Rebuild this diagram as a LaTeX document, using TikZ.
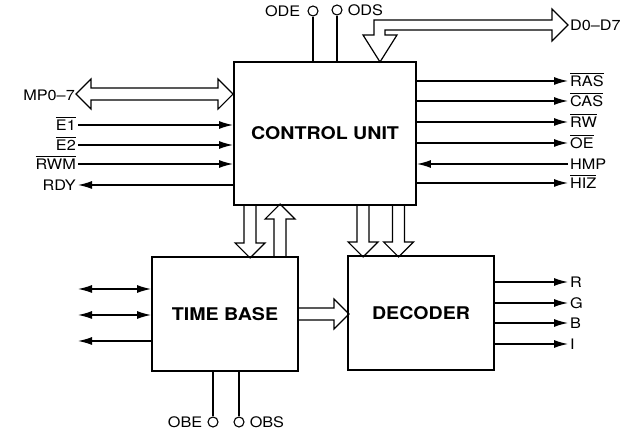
\documentclass[tikz,border=0pt]{standalone}
\usepackage{fontspec}
\setmainfont{TeX Gyre Heros}[FakeStretch=1.12]
\usetikzlibrary{arrows.meta,positioning,calc}
\newcommand{\ovl}[1]{\leavevmode\vbox{\hrule height 0.9pt\kern1.7pt\hbox{#1}}}
\tikzset{
    blk box/.style={
        draw=black,
        line width=1.9pt,
        minimum width=146pt,
        minimum height=114pt,
        inner sep=0pt,
        font=\fontsize{17.5}{20}\selectfont\bfseries
    },
    blk label/.style={font=\fontsize{14.5}{16}\selectfont, inner sep=2pt, text height=10.4pt, text depth=0pt},
    blk sig/.style={-{Latex[length=14pt,width=8pt]}, line width=1.3pt},
    blk both/.style={{Latex[length=14pt,width=8pt]}-{Latex[length=14pt,width=8pt]}, line width=1.3pt},
    blk wire/.style={line width=1.3pt},
    blk pin/.style={circle, draw, line width=1.1pt, fill=white, minimum size=10pt, inner sep=0pt},
    blk bus/.style={line width=1.2pt, line join=miter},
    pics/bus/.style={code={
        \draw[blk bus] (0,-6) -- (#1-15,-6) -- (#1-15,-15) -- (#1,0) -- (#1-15,15) -- (#1-15,6) -- (0,6);
    }},
    pics/bus both/.style={code={
        \draw[blk bus] (0,0) -- (15,-15) -- (15,-6) -- (#1-15,-6) -- (#1-15,-15) -- (#1,0)
            -- (#1-15,15) -- (#1-15,6) -- (15,6) -- (15,15) -- cycle;
    }}
}
\begin{document}
\begin{tikzpicture}[x=1pt, y=-1pt]
\useasboundingbox (0,0) rectangle (640,435);
% blocks
\node[blk box, minimum width=182pt, minimum height=143pt] (cu) at (325,133.5) {CONTROL UNIT};
\node[blk box] (tb) at (225,314) {TIME BASE};
\node[blk box] (dec) at (421,313) {DECODER};

% control unit, left side
\pic[rotate=180] at ($(cu.north west)+(0,33)$) {bus both=157};
\node[blk label, anchor=east] (mp) at (77,95) {MP0--7};
\node[blk label, anchor=east] (e1) at (78,125) {\ovl{E1}};
\node[blk label, anchor=east] (e2) at (78,145) {\ovl{E2}};
\node[blk label, anchor=east] (rwm) at (78,164) {\ovl{RWM}};
\node[blk label, anchor=east] (rdy) at (78,185) {RDY};
\draw[blk sig] (e1.east) -- (e1.east -| cu.west);
\draw[blk sig] (e2.east) -- (e2.east -| cu.west);
\draw[blk sig] (rwm.east) -- (rwm.east -| cu.west);
\draw[blk sig] (rdy.east -| cu.west) -- (rdy.east);

% control unit, right side
\node[blk label, anchor=west] (ras) at (568,81) {\ovl{RAS}};
\node[blk label, anchor=west] (cas) at (568,101) {\ovl{CAS}};
\node[blk label, anchor=west] (rw) at (568,122) {\ovl{RW}};
\node[blk label, anchor=west] (oe) at (568,143) {\ovl{OE}};
\node[blk label, anchor=west] (hmp) at (568,164) {HMP};
\node[blk label, anchor=west] (hiz) at (568,183) {\ovl{HIZ}};
\foreach \s in {ras,cas,rw,oe,hiz}
    \draw[blk sig] (\s.west -| cu.east) -- (\s.west);
\draw[blk sig] (hmp.west) -- (hmp.west -| cu.east);

% control unit, top
\node[blk pin] (ode) at (313,11) {};
\node[blk pin] (ods) at (337,10) {};
\node[blk label, left=5pt of ode] {ODE};
\node[blk label, right=3pt of ods] {ODS};
\draw[blk wire] (ode) -- (ode |- cu.north);
\draw[blk wire] (ods) -- (ods |- cu.north);
\draw[blk bus] (374,35) -- (374,20) -- (552,20) -- (552,9) -- (568,25) -- (552,41) -- (552,30)
    -- (385,30) -- (385,35) -- (397,35) -- (380,62) -- (363,35) -- cycle;
\node[blk label, anchor=west] (data) at (568,25) {D0--D7};

% buses between blocks
\pic[rotate=-90] at ($(cu.south west)+(17,0)$) {bus=52};
\pic[rotate=90] at ($(tb.north west)+(129,0)$) {bus=52};
\pic[rotate=-90] at ($(cu.south west)+(130,0)$) {bus=51};
\pic[rotate=-90] at ($(cu.south west)+(165.5,0)$) {bus=51};
\pic at (tb.east) {bus=50};

% time base
\coordinate (tl1) at (78,289);
\coordinate (tl2) at (78,315);
\coordinate (tl3) at (78,341);
\draw[blk both] (tl1) -- (tl1 -| tb.west);
\draw[blk both] (tl2) -- (tl2 -| tb.west);
\draw[blk sig] (tl3 -| tb.west) -- (tl3);
\node[blk pin] (obe) at (213,422) {};
\node[blk pin] (obs) at (239,422) {};
\node[blk label, left=3pt of obe] {OBE};
\node[blk label, right=3pt of obs] {OBS};
\draw[blk wire] (obe) -- (obe |- tb.south);
\draw[blk wire] (obs) -- (obs |- tb.south);

% decoder outputs
\node[blk label, anchor=west] (r) at (568,282) {R};
\node[blk label, anchor=west] (g) at (568,303) {G};
\node[blk label, anchor=west] (b) at (568,323) {B};
\node[blk label, anchor=west] (i) at (568,344) {I};
\foreach \s in {r,g,b,i}
    \draw[blk sig] (\s.west -| dec.east) -- (\s.west);
\end{tikzpicture}
\end{document}
